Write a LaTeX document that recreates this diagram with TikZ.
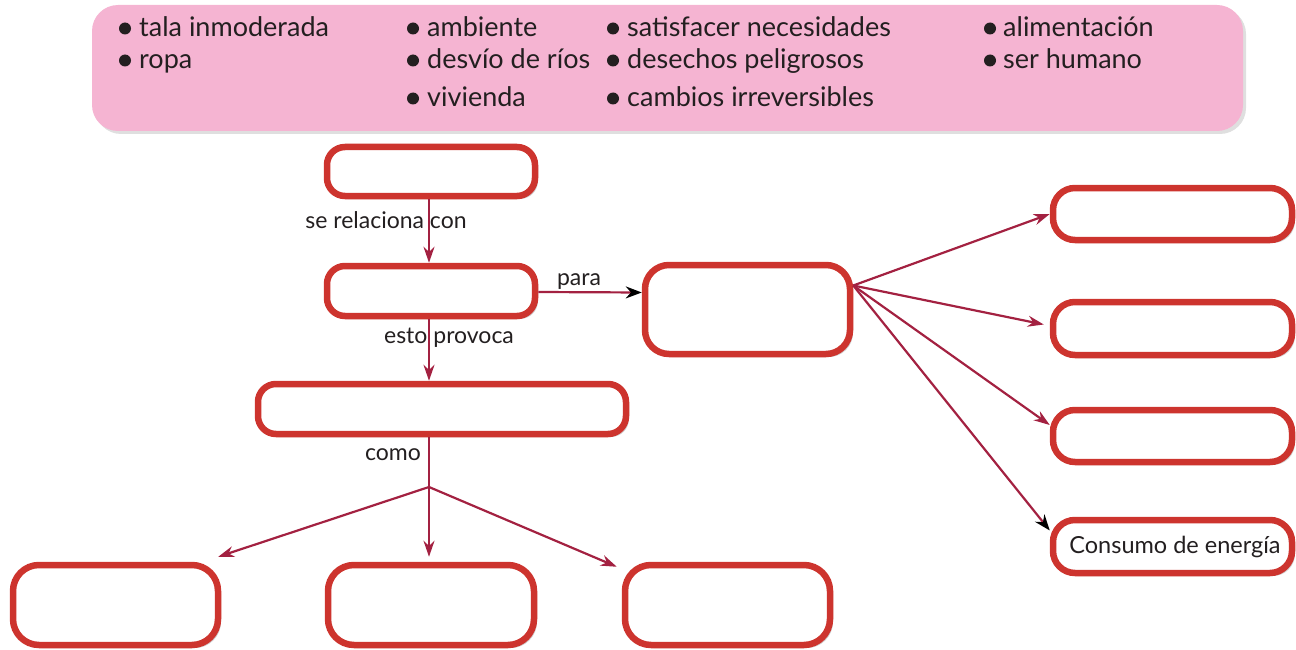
\documentclass[tikz,border=0pt]{standalone}
\usepackage{fontspec}
\setmainfont{Lato}
\usetikzlibrary{arrows.meta,shadows}
\definecolor{pinkbg}{RGB}{245,180,210}
\definecolor{boxred}{RGB}{205,52,46}
\definecolor{arrowred}{RGB}{163,33,65}
\definecolor{txt}{RGB}{35,31,32}
\begin{document}
\begin{tikzpicture}[x=1pt,y=-1pt,
  box/.style={draw=boxred, line width=6.5pt, fill=white, rounded corners=18pt, inner sep=0pt,
    drop shadow={shadow xshift=3pt,shadow yshift=-3pt,opacity=0.3,fill=black!60}},
  conn/.style={draw=arrowred, line width=2.2pt, -{Stealth[length=16pt,width=11pt]}},
  blackhead/.style={-{Stealth[length=16pt,width=12pt,color=black]}},
  item/.style={anchor=base west, inner sep=0pt, text=txt, font=\fontsize{27}{32}\selectfont},
  lab/.style={inner sep=0pt, text=txt, font=\fontsize{23}{27}\selectfont},
  dot/.style={fill=txt}
]
\useasboundingbox (0,0) rectangle (1296,650);

% word bank
\node[fill=pinkbg, rounded corners=26pt, minimum width=1151pt, minimum height=126pt, inner sep=0pt,
  drop shadow={shadow xshift=3pt,shadow yshift=-3pt,opacity=0.25,fill=black!50}] (bank) at (667.5,68) {};

\foreach \bx/\tx/\by/\t [count=\i] in {
  125/139/37/tala inmoderada, 125/139/69/ropa,
  413/427/37/ambiente, 413/427/69/desvío de ríos, 413/427/107/vivienda,
  613/627/37/satisfacer necesidades, 613/627/69/desechos peligrosos, 613/627/107/cambios irreversibles,
  990/1003/37/alimentación, 990/1003/69/ser humano}{
  \fill[dot] (\bx,\by-8.5) circle (6);
  \node[item] (w\i) at (\tx,\by) {\t};
}

% boxes
\node[box, minimum width=208pt, minimum height=49pt] (A) at (431,171.5) {};
\node[box, minimum width=208pt, minimum height=50pt] (B) at (431,291) {};
\node[box, minimum width=205pt, minimum height=89pt, rounded corners=24pt] (C) at (747.5,309.5) {};
\node[box, minimum width=368pt, minimum height=50pt] (D) at (442,409) {};
\node[box, minimum width=205pt, minimum height=80pt, rounded corners=26pt] (E1) at (115.5,605) {};
\node[box, minimum width=206pt, minimum height=80pt, rounded corners=26pt] (E2) at (431,605) {};
\node[box, minimum width=205pt, minimum height=80pt, rounded corners=26pt] (E3) at (727.5,605) {};
\node[box, minimum width=239pt, minimum height=52pt, rounded corners=22pt] (R1) at (1172.5,214) {};
\node[box, minimum width=239pt, minimum height=53pt, rounded corners=22pt] (R2) at (1172.5,328.5) {};
\node[box, minimum width=239pt, minimum height=52pt, rounded corners=22pt] (R3) at (1172.5,436) {};
\node[box, minimum width=239pt, minimum height=53pt, rounded corners=22pt, text=txt,
  font=\fontsize{23.5}{28}\selectfont] (R4) at (1172.5,546.5) {\hspace{5pt}Consumo de energía};

% connectors
\coordinate (vx) at (429,0);
\coordinate (split) at (429,487);
\coordinate (cs) at ([yshift=24pt]C.east);

\draw[conn] (vx |- A.south) -- (vx |- B.north);
\draw[conn] (vx |- B.south) -- (vx |- D.north);
\draw[conn, blackhead] (B.east |- 0,292) -- ([yshift=17pt]C.west);
\draw[draw=arrowred, line width=2.2pt] (vx |- D.south) -- (split);
\draw[conn] (split) -- ([xshift=-3pt,yshift=5pt]E1.north east);
\draw[conn] (split) -- ([yshift=5pt]E2.north -| vx);
\draw[conn] (split) -- ([xshift=-5pt,yshift=-5pt]E3.north west);

\draw[conn] (cs) -- (R1.west);
\draw[conn] (cs) -- ([xshift=-6pt,yshift=4pt]R2.west);
\draw[conn] (cs) -- ([yshift=11pt]R3.west);
\draw[conn, blackhead] (cs) -- ([yshift=16pt]R4.west);

% labels
\node[lab] (l1) at (386,220) {se relaciona con};
\node[lab] (l2) at (449,338) {esto provoca};
\node[lab] (l3) at (579,282) {para};
\node[lab] (l4) at (393,455) {como};
\end{tikzpicture}
\end{document}
